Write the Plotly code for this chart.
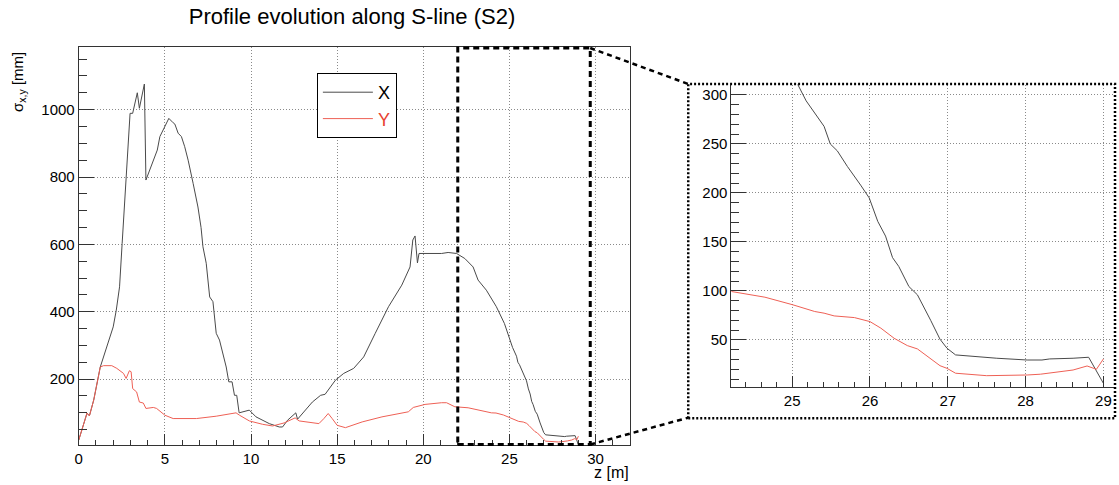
import plotly.graph_objects as go

W, H = 1119, 485

# ---- data ----
z_x = [0.0, 0.48, 0.62, 0.87, 1.25, 1.73, 2.0, 2.18, 2.37, 2.52, 2.79, 2.98, 3.13, 3.40, 3.52, 3.81,
       3.90, 4.33, 4.56, 4.71, 4.96, 5.23, 5.48, 5.58, 5.77, 5.96, 6.15, 6.35, 6.64, 6.92, 7.10,
       7.21, 7.40, 7.60, 7.79, 7.98, 8.17, 8.37, 8.56, 8.71, 8.90, 9.04, 9.17, 9.31, 9.90, 10.29,
       11.06, 11.64, 11.83, 12.12, 12.60, 12.70, 13.56, 14.04, 14.30, 14.90, 15.38, 15.96, 16.54,
       17.21, 17.98, 18.75, 19.23, 19.39, 19.52, 19.66, 19.75, 21.06, 21.44, 21.93, 22.41, 22.89,
       23.18, 23.66, 24.24, 24.71, 25.07, 25.18, 25.41, 25.49, 25.58, 25.71, 25.88, 25.99, 26.10,
       26.20, 26.29, 26.37, 26.50, 26.61, 26.78, 26.90, 26.99, 27.10, 27.63, 28.02, 28.21, 28.31,
       28.61, 28.81, 29.00]
sigma_x = [19, 99, 91, 138, 236, 316, 355, 405, 474, 603, 811, 989, 989, 1050, 1004, 1076,
           791, 850, 880, 920, 945, 974, 961, 957, 930, 920, 890, 850, 781, 711, 650,
           593, 544, 444, 430, 336, 316, 276, 236, 192, 192, 152, 152, 100, 108, 88,
           68, 58, 58, 78, 100, 81, 132, 152, 155, 197, 217, 232, 266,
           336, 415, 479, 533, 613, 625, 545, 573, 573, 576, 573, 558, 533,
           494, 464, 415, 365, 311, 294, 268, 250, 243, 227, 208, 195, 171,
           156, 134, 125, 104.5, 96, 70, 50.7, 41.5, 34.7, 31.3, 29.5, 29.5, 30.6,
           31.3, 32.3, 5.7]

z_y = [0.0, 0.48, 0.62, 0.87, 1.25, 1.44, 1.92, 2.21, 2.60, 2.75, 2.94, 3.04, 3.13, 3.36, 3.52,
       3.75, 3.90, 4.33, 4.52, 5.00, 5.48, 6.83, 7.98, 9.13, 9.33, 9.90, 10.67, 11.25, 11.92,
       12.56, 12.79, 13.37, 13.94, 14.23, 14.48, 14.71, 15.00, 15.48, 16.45, 17.60, 19.13, 19.42,
       20.10, 21.06, 21.35, 21.83, 22.60, 23.95, 24.22, 24.65, 24.82, 25.01, 25.29, 25.41, 25.54,
       25.80, 26.00, 26.14, 26.31, 26.48, 26.61, 26.78, 26.90, 26.99, 27.10, 27.50, 27.84, 28.02,
       28.19, 28.36, 28.61, 28.79, 28.91, 29.00]
sigma_y = [19, 99, 91, 138, 236, 240, 240, 232, 217, 202, 225, 222, 172, 162, 132,
           129, 113, 116, 113, 93, 83, 83, 90, 100, 93, 76, 66, 61, 70,
           85, 76, 73, 68, 83, 98, 83, 63, 56, 73, 88, 103, 116,
           125, 130, 130, 118, 115, 100, 99.4, 93.6, 90, 85.8, 79, 77.3, 74.5,
           72.8, 68.7, 62, 51.7, 44.2, 40.8, 31.3, 23.7, 21, 16, 13.5, 13.5, 14.2,
           15, 16.6, 19.3, 23.4, 20, 30.6]

series_names = ["X", "Y"]
title_text = "Profile evolution along S-line (S2)"
ytitle = "σ<sub>x,y</sub> [mm]"
xtitle = "z [m]"
zoom_box = [22.0, 29.69]

# ---- styling ----
FONT = "Liberation Sans, Arial, Helvetica, sans-serif"
BLACK = "#4a4a4a"
RED = "#ee6055"
GRID = "1px,2px"

def px(xp):
    return xp / W

def py(yp):
    return (H - yp) / H

fig = go.Figure()
fig.add_trace(go.Scatter(x=z_x, y=sigma_x, mode="lines", name=series_names[0],
                         line=dict(color=BLACK, width=1), xaxis="x", yaxis="y"))
fig.add_trace(go.Scatter(x=z_y, y=sigma_y, mode="lines",
                         name="<span style='color:#e8402f'>%s</span>" % series_names[1],
                         line=dict(color=RED, width=1), xaxis="x", yaxis="y"))
fig.add_trace(go.Scatter(x=z_x, y=sigma_x, mode="lines", showlegend=False,
                         line=dict(color=BLACK, width=1), xaxis="x2", yaxis="y2"))
fig.add_trace(go.Scatter(x=z_y, y=sigma_y, mode="lines", showlegend=False,
                         line=dict(color=RED, width=1), xaxis="x2", yaxis="y2"))

common = dict(showgrid=True, gridcolor="#8a8a8a", griddash=GRID, gridwidth=1,
              zeroline=False, showline=True, linecolor="#333", linewidth=1,
              ticks="inside", tickcolor="#333", tickfont=dict(size=15, color="black", family=FONT))

fig.update_layout(
    width=W, height=H,
    margin=dict(l=0, r=0, t=0, b=0),
    paper_bgcolor="white", plot_bgcolor="white",
    font=dict(family=FONT, color="black"),
    title=dict(text=title_text, x=px(352), xanchor="center", y=py(16), yanchor="middle",
               font=dict(size=22, family=FONT, color="black")),
    xaxis=dict(domain=[px(75), px(628.3)], range=[0, 32], dtick=5, ticklen=11, mirror=True,
               minor=dict(dtick=1, ticks="inside", ticklen=5, tickcolor="#333", showgrid=False),
               anchor="y", **common),
    yaxis=dict(domain=[py(444.5), py(47.3)], range=[6, 1185], dtick=200, ticklen=15, mirror=True,
               minor=dict(dtick=50, ticks="inside", ticklen=8, tickcolor="#333", showgrid=False),
               anchor="x", **common),
    xaxis2=dict(domain=[px(730), px(1115)], range=[24.219, 29.149], dtick=1, ticklen=11,
                minor=dict(dtick=0.2, ticks="inside", ticklen=5, tickcolor="#333", showgrid=False),
                anchor="y2", **common),
    yaxis2=dict(domain=[py(387.3), py(84.5)], range=[1.64, 310.7], dtick=50, ticklen=15,
                minor=dict(dtick=10, ticks="inside", ticklen=8, tickcolor="#333", showgrid=False),
                anchor="x2", **common),
    legend=dict(x=px(314), y=py(73), xanchor="left", yanchor="top",
                bordercolor="black", borderwidth=1, bgcolor="white",
                font=dict(size=18, family=FONT, color="black"), itemwidth=50,
                tracegroupgap=0),
    showlegend=True,
)

# zoom region box on main plot
fig.add_shape(type="rect", xref="x", yref="paper", x0=zoom_box[0], x1=zoom_box[1],
              y0=py(444.5), y1=py(48), line=dict(color="black", width=3, dash="6px,4px"))
# connecting lines
fig.add_shape(type="line", xref="paper", yref="paper", x0=px(588.3), y0=py(48),
              x1=px(686.7), y1=py(84), line=dict(color="black", width=2.5, dash="5px,4px"))
fig.add_shape(type="line", xref="paper", yref="paper", x0=px(588.3), y0=py(444.5),
              x1=px(686.7), y1=py(417.7), line=dict(color="black", width=2.5, dash="5px,4px"))
# inset dotted frame
fig.add_shape(type="rect", xref="paper", yref="paper", x0=px(686.7), x1=px(1115),
              y0=py(418.3), y1=py(84), line=dict(color="black", width=2.5, dash="2px,2px"))

# axis titles
fig.add_annotation(text=ytitle, xref="paper", yref="paper", x=px(15), y=py(82),
                   xanchor="center", yanchor="middle", textangle=-90, showarrow=False,
                   font=dict(size=15, family=FONT, color="black"))
fig.add_annotation(text=xtitle, xref="paper", yref="paper", x=px(629), y=py(472),
                   xanchor="right", yanchor="middle", showarrow=False,
                   font=dict(size=16, family=FONT, color="black"))

fig.write_html("out.html",
               config={"displayModeBar": False},
               post_script="document.body.style.margin='0';document.body.style.padding='0';")
